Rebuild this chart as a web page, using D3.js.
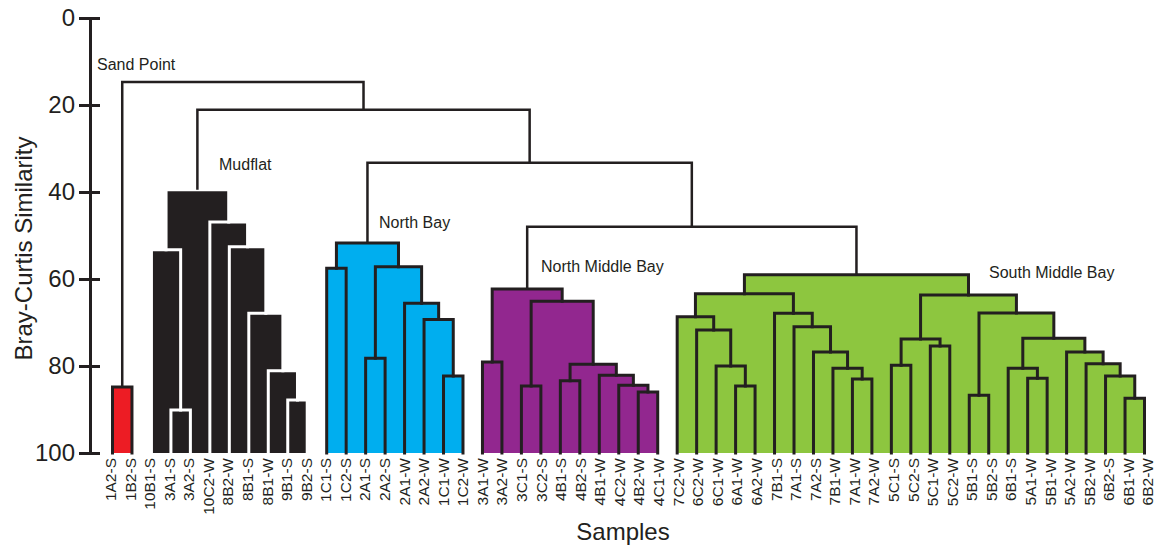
<!DOCTYPE html>
<html lang="en">
<head>
<meta charset="UTF-8">
<script src="https://d3js.org/d3.v7.min.js"></script>
<title>Bray-Curtis dendrogram</title>
<style>
  body { margin: 0; background: #fff; }
  svg { font-family: "Liberation Sans", Arial, sans-serif; }
  .tick text { font-size: 24px; fill: #231f20; }
</style>
</head>
<body>
<div id="chart"></div>
<script>
// Samples, left to right
const leaves = [
  "1A2-S", "1B2-S",
  "10B1-S", "3A1-S", "3A2-S", "10C2-W", "8B2-W", "8B1-S", "8B1-W", "9B1-S", "9B2-S",
  "1C1-S", "1C2-S", "2A1-S", "2A2-S", "2A1-W", "2A2-W", "1C1-W", "1C2-W",
  "3A1-W", "3A2-W", "3C1-S", "3C2-S", "4B1-S", "4B2-S", "4B1-W", "4C2-W", "4B2-W", "4C1-W",
  "7C2-W", "6C2-W", "6C1-W", "6A1-W", "6A2-W", "7B1-S", "7A1-S", "7A2-S", "7B1-W", "7A1-W", "7A2-W",
  "5C1-S", "5C2-S", "5C1-W", "5C2-W", "5B1-S", "5B2-S", "6B1-S", "5A1-W", "5B1-W", "5A2-W",
  "5B2-W", "6B2-S", "6B1-W", "6B2-W"
];

// merges: [id, left child, right child, similarity at which they join]
const merges = [
  ["sp", "1A2-S", "1B2-S", 84.8],

  ["m1", "3A1-S", "3A2-S", 90.1],
  ["m2", "10B1-S", "m1", 53.3],
  ["m3", "9B1-S", "9B2-S", 87.8],
  ["m4", "8B1-W", "m3", 81.1],
  ["m5", "8B1-S", "m4", 67.9],
  ["m6", "8B2-W", "m5", 52.6],
  ["m7", "10C2-W", "m6", 46.9],
  ["mud", "m2", "m7", 39.5],

  ["n1", "1C1-S", "1C2-S", 57.5],
  ["n2", "2A1-S", "2A2-S", 78.2],
  ["n3", "1C1-W", "1C2-W", 82.3],
  ["n4", "2A2-W", "n3", 69.3],
  ["n5", "2A1-W", "n4", 65.6],
  ["n6", "n2", "n5", 57.2],
  ["nb", "n1", "n6", 51.7],

  ["p1", "3A1-W", "3A2-W", 79.1],
  ["p2", "3C1-S", "3C2-S", 84.6],
  ["p3", "4B1-S", "4B2-S", 83.4],
  ["p4", "4B2-W", "4C1-W", 86.0],
  ["p5", "4C2-W", "p4", 84.4],
  ["p6", "4B1-W", "p5", 82.1],
  ["p7", "p3", "p6", 79.6],
  ["p8", "p2", "p7", 65.1],
  ["nmb", "p1", "p8", 62.3],

  ["g1", "6A1-W", "6A2-W", 84.6],
  ["g2", "6C1-W", "g1", 80.0],
  ["g3", "6C2-W", "g2", 71.7],
  ["g4", "7C2-W", "g3", 68.7],
  ["g5", "7A1-W", "7A2-W", 83.0],
  ["g6", "7B1-W", "g5", 80.5],
  ["g7", "7A2-S", "g6", 76.8],
  ["g8", "7A1-S", "g7", 71.0],
  ["g9", "7B1-S", "g8", 67.9],
  ["g10", "g4", "g9", 63.4],
  ["g11", "5C1-S", "5C2-S", 79.8],
  ["g12", "5C1-W", "5C2-W", 75.4],
  ["g13", "g11", "g12", 73.8],
  ["g14", "5B1-S", "5B2-S", 86.7],
  ["g15", "5A1-W", "5B1-W", 82.8],
  ["g16", "6B1-S", "g15", 80.5],
  ["g17", "6B1-W", "6B2-W", 87.4],
  ["g18", "6B2-S", "g17", 82.3],
  ["g19", "5B2-W", "g18", 79.5],
  ["g20", "5A2-W", "g19", 76.8],
  ["g21", "g16", "g20", 73.6],
  ["g22", "g14", "g21", 67.8],
  ["g23", "g13", "g22", 63.7],
  ["smb", "g10", "g23", 59.0],

  ["t4", "nmb", "smb", 48.0],
  ["t3", "nb", "t4", 33.3],
  ["t2", "mud", "t3", 21.1],
  ["root", "sp", "t2", 14.7]
];

// site groups (cluster roots)
const groupRoots = ["sp", "mud", "nb", "nmb", "smb"];
const groupNames = ["Sand Point", "Mudflat", "North Bay", "North Middle Bay", "South Middle Bay"];

const yTicks = [0, 20, 40, 60, 80, 100];

// styling
const groupFill = ["#ed1c24", "#231f20", "#00aeef", "#92278f", "#8dc63f"];
const groupLine = ["#231f20", "#ffffff", "#231f20", "#231f20", "#231f20"];
const namePos = [[97, 70], [219, 170], [379, 228], [541, 272], [989, 278]];
const ink = "#231f20";

const width = 1160, height = 550;

const svg = d3.select("#chart").append("svg")
  .attr("width", width)
  .attr("height", height);

const x = d3.scalePoint().domain(leaves).range([112.5, 1144.5]);
const xLabel = d3.scalePoint().domain(leaves).range([110.5, 1148]);
const y = d3.scaleLinear().domain([0, 100]).range([18, 453]);

// build the tree positions
const nodes = new Map();
leaves.forEach(l => nodes.set(l, { id: l, x: x(l), h: 100, leaf: true }));
merges.forEach(([id, a, b, h]) => {
  const l = nodes.get(a), r = nodes.get(b);
  nodes.set(id, { id, left: l, right: r, h, x: (l.x + r.x) / 2 });
});

function descendants(n, out = []) {
  if (n.leaf) return out;
  out.push(n);
  descendants(n.left, out);
  descendants(n.right, out);
  return out;
}

const link = n => `M${n.left.x},${y(n.left.h)}V${y(n.h)}H${n.right.x}V${y(n.right.h)}`;

const inGroup = new Set();

// clusters: filled blocks plus outlines
groupRoots.forEach((rootId, gi) => {
  const members = descendants(nodes.get(rootId));
  members.forEach(n => inGroup.add(n.id));
  const g = svg.append("g");

  g.selectAll("rect")
    .data(members)
    .join("rect")
    .attr("x", d => d.left.x)
    .attr("y", d => y(d.h))
    .attr("width", d => d.right.x - d.left.x)
    .attr("height", d => y(100) - y(d.h))
    .attr("fill", groupFill[gi]);

  g.selectAll("path")
    .data(members)
    .join("path")
    .attr("d", link)
    .attr("fill", "none")
    .attr("stroke", groupLine[gi])
    .attr("stroke-width", 3)
    .attr("stroke-linejoin", "miter")
    .attr("stroke-linecap", "square");
});

// links between the site groups
svg.append("g")
  .selectAll("path")
  .data(merges.map(m => nodes.get(m[0])).filter(n => !inGroup.has(n.id)))
  .join("path")
  .attr("d", link)
  .attr("fill", "none")
  .attr("stroke", ink)
  .attr("stroke-width", 2.5);

// group names
svg.append("g")
  .selectAll("text")
  .data(groupNames)
  .join("text")
  .attr("x", (d, i) => namePos[i][0])
  .attr("y", (d, i) => namePos[i][1])
  .attr("font-size", 16)
  .attr("fill", ink)
  .text(d => d);

// y axis
const axis = svg.append("g")
  .attr("transform", "translate(90,0)")
  .call(d3.axisLeft(y).tickValues(yTicks).tickSizeOuter(0).tickPadding(15));

axis.select(".domain").attr("stroke", ink).attr("stroke-width", 3);
axis.selectAll(".tick line")
  .attr("x1", -11).attr("x2", 10)
  .attr("stroke", ink).attr("stroke-width", 3);
axis.selectAll(".tick text").attr("x", -15);

svg.append("text")
  .attr("transform", `translate(32,${(y(0) + y(100)) / 2 + 13}) rotate(-90)`)
  .attr("text-anchor", "middle")
  .attr("font-size", 24)
  .attr("fill", ink)
  .text("Bray-Curtis Similarity");

// sample labels
svg.append("g")
  .selectAll("text")
  .data(leaves)
  .join("text")
  .attr("transform", d => `translate(${xLabel(d)},458) rotate(-90)`)
  .attr("text-anchor", "end")
  .attr("dy", "0.35em")
  .attr("font-size", 15.5)
  .attr("fill", ink)
  .text(d => d);

svg.append("text")
  .attr("x", 623)
  .attr("y", 540)
  .attr("text-anchor", "middle")
  .attr("font-size", 24)
  .attr("fill", ink)
  .text("Samples");
</script>
</body>
</html>
